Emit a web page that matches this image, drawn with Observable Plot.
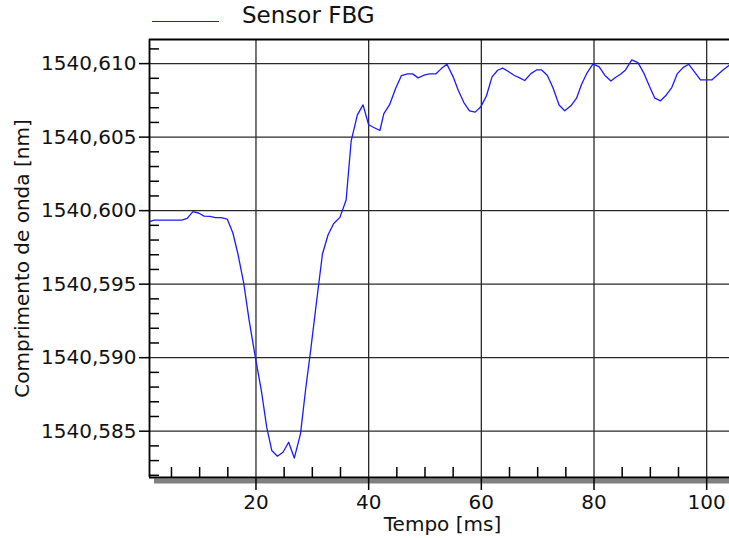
<!DOCTYPE html>
<html><head><meta charset="utf-8">
<script src="https://cdn.jsdelivr.net/npm/d3@7"></script>
<script src="https://cdn.jsdelivr.net/npm/@observablehq/plot@0.6"></script>
<style>
body{margin:0;background:#fff;font-family:"DejaVu Sans",sans-serif;}
#wrap{position:relative;width:729px;height:538px;overflow:hidden;background:#fff}
#legend{position:relative;height:30px}
#legend .sw{position:absolute;left:152px;top:21px;width:67px;height:0;border-top:1px solid #1a1aff}
#legend .lb{position:absolute;left:242px;top:4px;font-size:23px;line-height:23px;color:#111;white-space:nowrap}
</style></head><body>
<div id="wrap"><div id="legend"><span class="sw"></span><span class="lb">Sensor FBG</span></div><div id="chart"></div></div>
<script>
const seriesName = "Sensor FBG";
const xLabel = "Tempo [ms]";
const yLabel = "Comprimento de onda [nm]";

const times = [
  1.1,1.9,2.8,3.8,4.8,5.8,6.8,7.8,8.8,9.8,
  10.8,11.8,12.8,13.8,14.9,15.9,16.8,17.8,18.8,19.9,
  21.0,21.9,22.8,23.8,24.8,25.8,26.8,27.9,28.8,29.7,
  30.7,31.8,32.8,33.8,34.9,36.0,36.9,38.0,39.0,40.0,
  41.0,42.0,42.7,43.7,44.8,45.8,46.9,47.8,48.8,49.8,
  50.8,51.9,52.9,53.9,55.0,55.9,56.9,57.9,58.9,59.9,
  60.9,61.9,62.9,63.8,64.8,65.8,66.8,67.7,68.8,69.8,
  70.7,71.7,72.7,73.8,74.8,75.9,76.9,77.8,78.8,79.8,
  80.9,81.9,83.0,83.8,84.7,85.6,86.7,87.8,88.8,89.8,
  90.8,91.8,92.8,93.8,94.8,95.8,96.8,97.8,98.9,99.9,
  100.9,101.9,102.9,104.0
];
const wavelengths = [
  1540.59925,1540.59935,1540.59936,1540.59936,1540.59936,1540.59936,1540.59936,1540.59947,1540.59993,1540.59984,
  1540.59963,1540.59961,1540.59952,1540.59952,1540.59943,1540.59848,1540.59705,1540.59512,1540.59250,1540.59000,
  1540.58765,1540.58527,1540.58369,1540.58330,1540.58357,1540.58425,1540.58317,1540.58482,1540.58780,1540.59048,
  1540.59365,1540.59705,1540.59836,1540.59913,1540.59954,1540.60072,1540.60475,1540.60651,1540.60719,1540.60584,
  1540.60564,1540.60545,1540.60660,1540.60719,1540.60833,1540.60918,1540.60930,1540.60930,1540.60903,1540.60921,
  1540.60930,1540.60930,1540.60966,1540.60996,1540.60910,1540.60819,1540.60735,1540.60679,1540.60670,1540.60706,
  1540.60780,1540.60910,1540.60955,1540.60969,1540.60946,1540.60921,1540.60903,1540.60885,1540.60932,1540.60957,
  1540.60957,1540.60921,1540.60837,1540.60719,1540.60679,1540.60713,1540.60765,1540.60860,1540.60939,1540.60996,
  1540.60980,1540.60921,1540.60882,1540.60905,1540.60928,1540.60957,1540.61025,1540.61007,1540.60939,1540.60849,
  1540.60765,1540.60747,1540.60785,1540.60837,1540.60932,1540.60973,1540.60996,1540.60946,1540.60889,1540.60889,
  1540.60889,1540.60923,1540.60957,1540.60989
];

const xTicks = [20, 40, 60, 80, 100];
const xTickLabels = ["20", "40", "60", "80", "100"];
const xMinorTicks = [5,10,15,25,30,35,45,50,55,65,70,75,85,90,95];
const yTicks = [1540.585, 1540.590, 1540.595, 1540.600, 1540.605, 1540.610];
const yTickLabels = ["1540,585", "1540,590", "1540,595", "1540,600", "1540,605", "1540,610"];
const yMinorTicks = [1540.582,1540.583,1540.584,1540.586,1540.587,1540.588,1540.589,
  1540.591,1540.592,1540.593,1540.594,1540.596,1540.597,1540.598,1540.599,
  1540.601,1540.602,1540.603,1540.604,1540.606,1540.607,1540.608,1540.609,1540.611];
const xDomain = [1.1, 104.05];
const yDomain = [1540.58185, 1540.61164];

const data = times.map((t, i) => ({t, v: wavelengths[i]}));
const blue = "#1a1aff";

const chart = Plot.plot({
  width: 729, height: 508,
  marginTop: 9, marginBottom: 61, marginLeft: 149, marginRight: 0,
  style: {fontFamily: '"DejaVu Sans", sans-serif', fontSize: "20px", color: "#111", background: "#fff", overflow: "visible"},
  x: {domain: xDomain, axis: null},
  y: {domain: yDomain, axis: null},
  marks: [
    Plot.ruleY(yTicks, {stroke: "#2a2a2a", strokeWidth: 1.3}),
    Plot.ruleX(xTicks, {stroke: "#2a2a2a", strokeWidth: 1.3}),
    Plot.line(data, {x: "t", y: "v", stroke: blue, strokeWidth: 1.3, clip: true}),
    Plot.ruleY([yDomain[0]], {stroke: "#808080", strokeWidth: 5, dy: 3.5, insetLeft: 5}),
    Plot.ruleY([yDomain[0]], {stroke: "#000", strokeWidth: 1.8}),
    Plot.ruleY([yDomain[1]], {stroke: "#000", strokeWidth: 1.8}),
    Plot.ruleX([xDomain[0]], {stroke: "#000", strokeWidth: 1.8}),
    Plot.ruleX(xMinorTicks, {y1: yDomain[0], y2: yDomain[0], insetTop: -10, stroke: "#000", strokeWidth: 1.5}),
    Plot.ruleY(yMinorTicks, {x1: xDomain[0], x2: xDomain[0], insetRight: -10, stroke: "#000", strokeWidth: 1.5}),
    Plot.axisX(xTicks, {anchor: "bottom", tickSize: 13, tickPadding: 4, strokeWidth: 1.5, stroke: "#000",
      tickFormat: d => xTickLabels[xTicks.indexOf(d)], label: null, fontSize: 20, fill: "#111"}),
    Plot.axisY(yTicks, {anchor: "left", tickSize: 10, tickPadding: 3, strokeWidth: 1.5, stroke: "#000",
      tickFormat: d => yTickLabels[yTicks.indexOf(d)], label: null, fontSize: 20, fill: "#111"}),
    Plot.text([yLabel], {frameAnchor: "left", dx: -127, rotate: -90, textAnchor: "middle", lineAnchor: "middle", fontSize: 20, fill: "#111"}),
    Plot.text([xLabel], {frameAnchor: "bottom", dy: 47, dx: 3, textAnchor: "middle", lineAnchor: "middle", fontSize: 20, fill: "#111"})
  ]
});
document.getElementById("chart").append(chart);
</script>
</body></html>
